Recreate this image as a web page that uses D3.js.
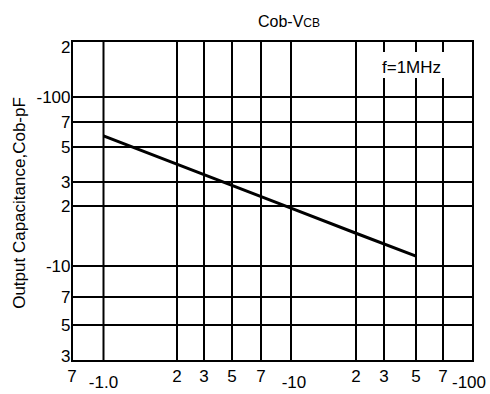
<!DOCTYPE html>
<html>
<head>
<meta charset="utf-8">
<script src="https://cdn.jsdelivr.net/npm/d3@7"></script>
<style>
  body { margin: 0; background: #fff; }
  svg { display: block; font-family: "Liberation Sans", Arial, sans-serif; }
</style>
</head>
<body>
<svg width="490" height="394"></svg>
<script>
// tick values and their printed labels (the datasheet labels are odd, copied as printed)
const xTicks = [0.7, 1, 2, 3, 5, 7, 10, 20, 30, 50, 70, 100];
const xTickLabels = ['7', '-1.0', '2', '3', '5', '7', '-10', '2', '3', '5', '7', '-100'];
const yTicks = [0.3, 0.5, 0.7, 1, 2, 3, 5, 7, 10, 20];
const yTickLabels = ['3', '5', '7', '-10', '2', '3', '5', '7', '-100', '2'];

// Cob vs VCB curve
const vcb = [1, 3, 10, 20, 50];
const cob = [5.8, 3.34, 1.95, 1.46, 1.12];

const svg = d3.select('svg');
const plotL = 72, plotR = 473, plotT = 41, plotB = 361;

// printed grid is not evenly logarithmic, so the scales are piecewise over the grid lines
const x = d3.scaleLog()
  .domain(xTicks)
  .range([plotL, 103.5, 177, 204, 232, 261, 291, 356, 384, 416, 443, plotR]);
const y = d3.scaleLog()
  .domain(yTicks)
  .range([plotB, 325, 297, 266, 206, 182, 147, 122, 97, plotT]);

const grid = svg.append('g').attr('stroke', '#000').attr('stroke-width', 2);
grid.selectAll('line.v')
  .data(xTicks.slice(1, -1))
  .join('line')
  .attr('class', 'v')
  .attr('x1', (d) => x(d)).attr('x2', (d) => x(d))
  .attr('y1', plotT).attr('y2', plotB);
grid.selectAll('line.h')
  .data(yTicks.slice(1, -1))
  .join('line')
  .attr('class', 'h')
  .attr('y1', (d) => y(d)).attr('y2', (d) => y(d))
  .attr('x1', plotL).attr('x2', plotR);

svg.append('rect')
  .attr('x', plotL).attr('y', plotT)
  .attr('width', plotR - plotL).attr('height', plotB - plotT)
  .attr('fill', 'none').attr('stroke', '#000').attr('stroke-width', 2);

// label box breaks the grid
svg.append('rect')
  .attr('x', 378).attr('y', 52).attr('width', 70).attr('height', 26)
  .attr('fill', '#fff');
svg.append('text')
  .attr('x', 382).attr('y', 73)
  .attr('font-size', 17)
  .text('f=1MHz');

const line = d3.line()
  .x((d) => x(d[0]))
  .y((d) => y(d[1]));
svg.append('path')
  .datum(d3.zip(vcb, cob))
  .attr('fill', 'none')
  .attr('stroke', '#000')
  .attr('stroke-width', 3)
  .attr('d', line);

// y tick labels
svg.append('g')
  .attr('font-size', 17)
  .attr('text-anchor', 'end')
  .selectAll('text')
  .data(yTicks)
  .join('text')
  .attr('x', plotL - 1.5)
  .attr('y', (d) => Math.min(Math.max(y(d), plotT + 6), plotB - 5))
  .attr('dy', '0.35em')
  .text((d, i) => yTickLabels[i]);

// x tick labels, decade labels sit lower
svg.append('g')
  .attr('font-size', 17)
  .attr('text-anchor', 'middle')
  .selectAll('text')
  .data(xTicks)
  .join('text')
  .attr('x', (d, i) => (i === xTicks.length - 1 ? x(d) - 4 : x(d) + (d === 10 ? 3 : 0)))
  .attr('y', (d, i) => (xTickLabels[i].startsWith('-') ? 388 : 382))
  .text((d, i) => xTickLabels[i]);

// title
const title = svg.append('text')
  .attr('x', 258).attr('y', 27)
  .attr('font-size', 16);
title.append('tspan').text('Cob-V');
title.append('tspan').attr('font-size', 12).text('CB');

svg.append('text')
  .attr('transform', 'translate(25,203) rotate(-90)')
  .attr('text-anchor', 'middle')
  .attr('font-size', 17)
  .text('Output Capacitance,Cob-pF');
</script>
</body>
</html>
